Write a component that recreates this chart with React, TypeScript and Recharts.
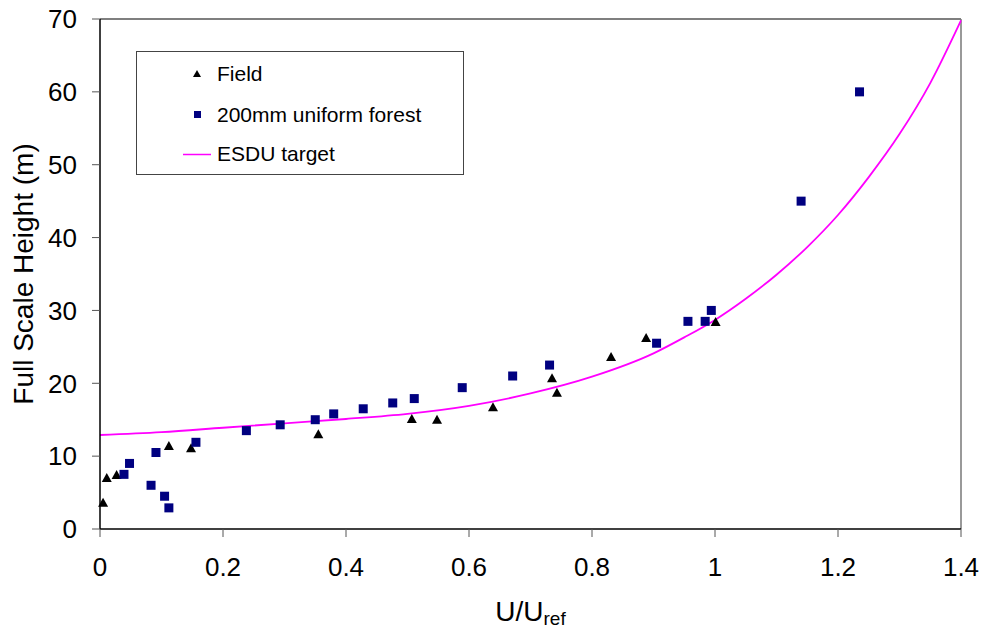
import React from 'react';
import {
  ComposedChart,
  Scatter,
  Line,
  XAxis,
  YAxis,
  Legend,
  ReferenceLine,
} from 'recharts';

const FONT = '"Liberation Sans", Arial, sans-serif';

const fieldU = [0.005, 0.011, 0.027, 0.112, 0.148, 0.355, 0.507, 0.548, 0.639, 0.735, 0.743, 0.831, 0.888, 1.001];
const fieldZ = [3.6, 7.0, 7.4, 11.4, 11.1, 13.0, 15.1, 15.0, 16.7, 20.7, 18.7, 23.6, 26.2, 28.4];

const forestU = [
  0.039, 0.048, 0.083, 0.091, 0.105, 0.112, 0.156, 0.238, 0.293, 0.35, 0.38, 0.428,
  0.476, 0.511, 0.589, 0.671, 0.731, 0.905, 0.956, 0.984, 0.994, 1.14, 1.235,
];
const forestZ = [
  7.5, 9.0, 6.0, 10.5, 4.5, 2.9, 11.9, 13.5, 14.3, 15.0, 15.8, 16.5,
  17.3, 17.9, 19.4, 21.0, 22.5, 25.5, 28.5, 28.5, 30.0, 45.0, 60.0,
];

// ESDU target curve
const esduU = [0, 0.1, 0.2, 0.3, 0.4, 0.5, 0.6, 0.7, 0.8, 0.9, 0.95, 1.0, 1.05, 1.1, 1.15, 1.2, 1.25, 1.3, 1.35, 1.4];
const esduZ = [12.9, 13.3, 13.9, 14.5, 15.1, 15.8, 16.9, 18.6, 20.9, 24.1, 26.3, 28.7, 31.6, 34.9, 38.7, 43.1, 48.3, 54.2, 61.2, 69.8];

const xTicks = [0, 0.2, 0.4, 0.6, 0.8, 1, 1.2, 1.4];
const yTicks = [0, 10, 20, 30, 40, 50, 60, 70];

const seriesNames = ['Field', '200mm uniform forest', 'ESDU target'];

const fieldData = fieldU.map((x, i) => ({ x, y: fieldZ[i] }));
const forestData = forestU.map((x, i) => ({ x, y: forestZ[i] }));
const esduData = esduU.map((x, i) => ({ x, y: esduZ[i] }));

const Triangle = (props: any) => {
  const { cx, cy } = props;
  return (
    <polygon
      points={`${cx},${cy - 5} ${cx + 5},${cy + 4} ${cx - 5},${cy + 4}`}
      fill="#000"
    />
  );
};

const Square = (props: any) => {
  const { cx, cy } = props;
  return <rect x={cx - 4.5} y={cy - 4.5} width={9} height={9} fill="#000080" />;
};

const XTitle = (props: any) => {
  const { viewBox } = props;
  const cx = viewBox.x + viewBox.width / 2;
  return (
    <text x={cx} y={621} textAnchor="middle" fontFamily={FONT} fontSize={28} fill="#000">
      U/U
      <tspan fontSize={19} dy={4}>ref</tspan>
    </text>
  );
};

const YTitle = (props: any) => {
  const { viewBox } = props;
  const cy = viewBox.y + viewBox.height / 2;
  return (
    <text
      x={33}
      y={cy}
      transform={`rotate(-90, 33, ${cy})`}
      textAnchor="middle"
      fontFamily={FONT}
      fontSize={28}
      fill="#000"
    >
      Full Scale Height (m)
    </text>
  );
};

const LegendBox = () => (
  <div
    style={{
      width: 326,
      height: 122,
      border: '1px solid #444',
      background: '#fff',
      position: 'relative',
    }}
  >
    <svg width={326} height={122} style={{ position: 'absolute', left: 0, top: 0 }}>
      <polygon points="60,18 64,25 56,25" fill="#000" />
      <rect x={57} y={59} width={7} height={7} fill="#000080" />
      <line x1={46} y1={102.5} x2={74} y2={102.5} stroke="#ff00ff" strokeWidth={1.5} />
      <text x={80} y={29} fontSize={21} fontFamily={FONT}>{seriesNames[0]}</text>
      <text x={80} y={70} fontSize={21} fontFamily={FONT}>{seriesNames[1]}</text>
      <text x={80} y={109} fontSize={21} fontFamily={FONT}>{seriesNames[2]}</text>
    </svg>
  </div>
);

export default function App() {
  return (
    <div style={{ position: 'absolute', left: 0, top: 0, background: '#fff' }}>
      <ComposedChart
        width={982}
        height={630}
        margin={{ top: 19, right: 21, bottom: 0, left: 0 }}
        style={{ fontFamily: FONT }}
      >
        <XAxis
          type="number"
          dataKey="x"
          domain={[0, 1.4]}
          ticks={xTicks}
          height={101}
          tickSize={8}
          tickMargin={21}
          axisLine={{ stroke: '#000', strokeWidth: 1.5 }}
          tickLine={{ stroke: '#555' }}
          tick={{ fill: '#000', fontSize: 26, fontFamily: FONT }}
          tickFormatter={(v: number) => String(v)}
          label={<XTitle />}
          interval={0}
        />
        <YAxis
          type="number"
          dataKey="y"
          domain={[0, 70]}
          ticks={yTicks}
          width={100}
          tickSize={8}
          tickMargin={15}
          axisLine={{ stroke: '#000', strokeWidth: 1.5 }}
          tickLine={{ stroke: '#555' }}
          tick={{ fill: '#000', fontSize: 26, fontFamily: FONT }}
          label={<YTitle />}
          interval={0}
        />
        <ReferenceLine y={70} stroke="#555" strokeWidth={1.5} />
        <ReferenceLine x={1.4} stroke="#777" strokeWidth={1.5} />
        <Scatter
          name={seriesNames[0]}
          data={fieldData}
          dataKey="y"
          shape={(p: any) => <Triangle {...p} />}
          isAnimationActive={false}
        />
        <Scatter
          name={seriesNames[1]}
          data={forestData}
          dataKey="y"
          shape={(p: any) => <Square {...p} />}
          isAnimationActive={false}
        />
        <Line
          name={seriesNames[2]}
          data={esduData}
          dataKey="y"
          type="monotone"
          stroke="#ff00ff"
          strokeWidth={1.8}
          dot={false}
          activeDot={false}
          isAnimationActive={false}
        />
        <Legend
          layout="horizontal"
          verticalAlign="middle"
          align="center"
          content={() => <LegendBox />}
          wrapperStyle={{ position: 'absolute', left: 136, top: 51, width: 328, height: 124 }}
        />
      </ComposedChart>
    </div>
  );
}
